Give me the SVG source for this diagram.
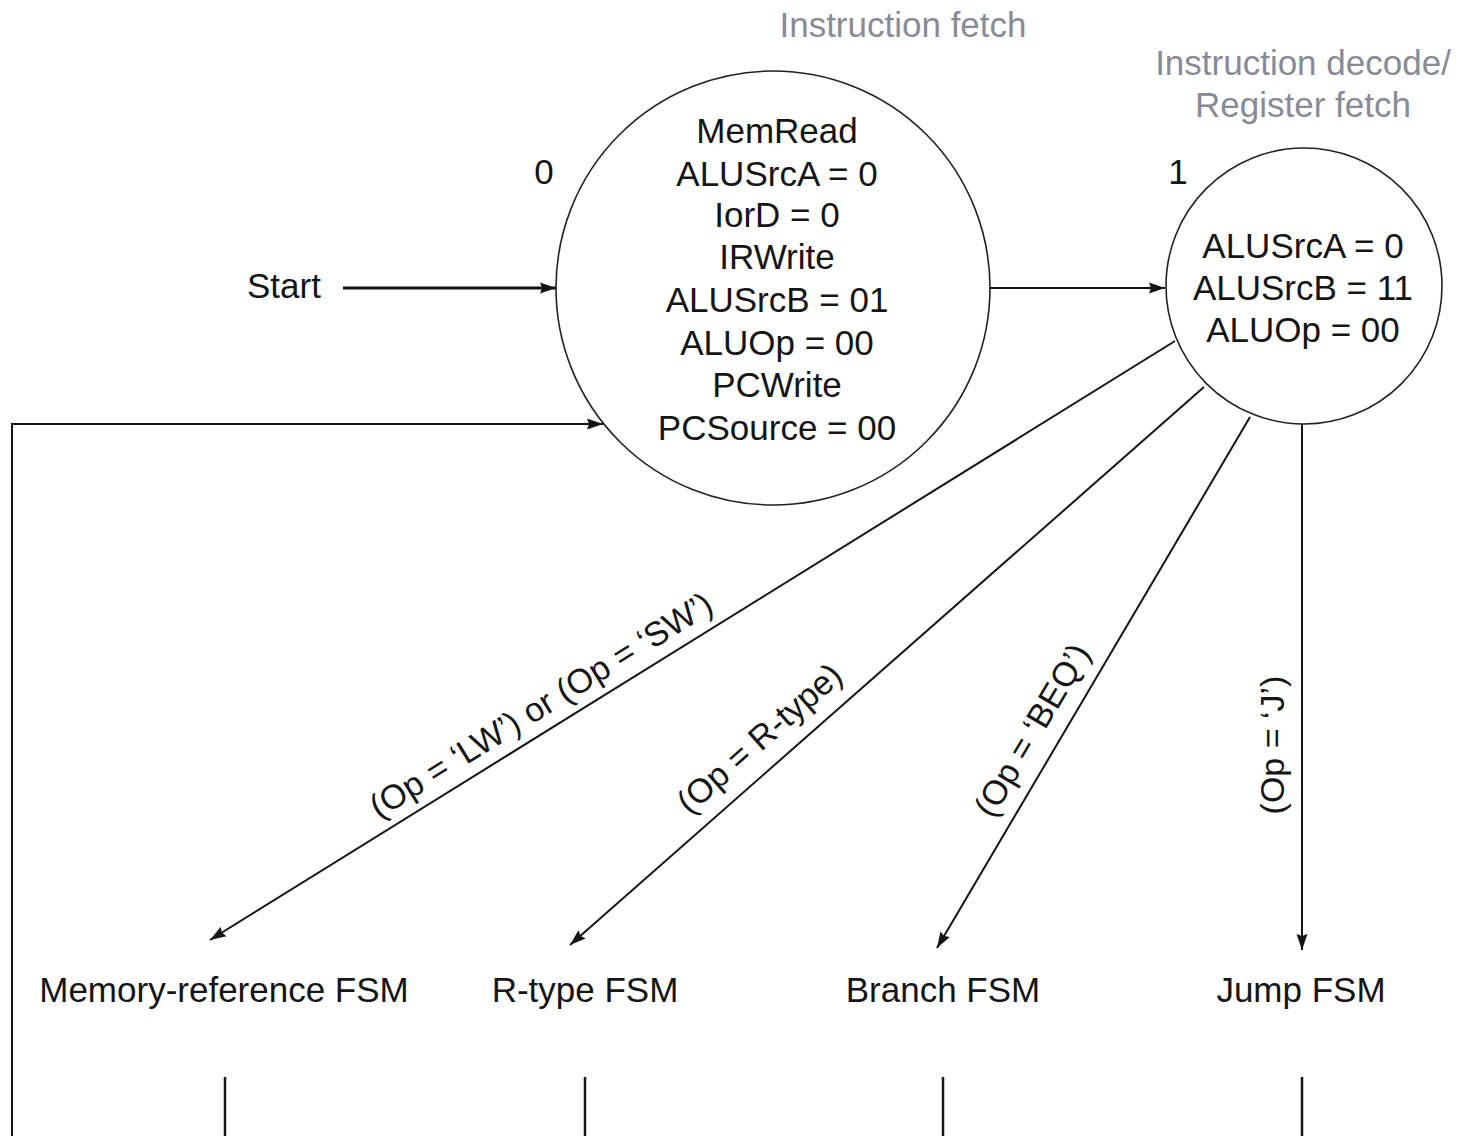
<svg xmlns="http://www.w3.org/2000/svg" width="1471" height="1136" viewBox="0 0 1471 1136">
<style>
  text { font-family: "Liberation Sans", Arial, Helvetica, sans-serif; font-size: 35px; fill: #151515; }
  .title { fill: #8a8a96; }
  .mid { text-anchor: middle; }
  .lbl { font-size: 34px; text-anchor: middle; }
  .state { fill: #ffffff; stroke: #222; stroke-width: 1.6; }
  .wire { fill: none; stroke: #151515; stroke-width: 2; }
  .thick { stroke-width: 3; }
</style>
<defs>
  <marker id="arr" markerUnits="userSpaceOnUse" markerWidth="18" markerHeight="12" refX="16" refY="6" orient="auto">
    <path d="M0,0.5 L16,6 L0,11.5 L2,6 z" fill="#151515"/>
  </marker>
</defs>
<rect width="1471" height="1136" fill="#ffffff"/>

<text class="title mid" x="903" y="37">Instruction fetch</text>
<text class="title mid" x="1303" y="75">Instruction decode/</text>
<text class="title mid" x="1303" y="117">Register fetch</text>

<g id="connectors">
  <line class="wire thick" x1="343" y1="288" x2="556" y2="288" marker-end="url(#arr)"/>
  <line class="wire" x1="990" y1="288" x2="1165" y2="288" marker-end="url(#arr)"/>
  <path class="wire" d="M12,1136 V424 H603" marker-end="url(#arr)"/>
  <line class="wire" x1="1175" y1="341" x2="210" y2="940" marker-end="url(#arr)"/>
  <line class="wire" x1="1204" y1="387" x2="570" y2="945" marker-end="url(#arr)"/>
  <line class="wire" x1="1250" y1="417" x2="937" y2="948" marker-end="url(#arr)"/>
  <line class="wire" x1="1302" y1="424" x2="1302" y2="950" marker-end="url(#arr)"/>
  <line class="wire" style="stroke-width:2.5" x1="225" y1="1077" x2="225" y2="1136"/>
  <line class="wire" style="stroke-width:2.5" x1="585" y1="1077" x2="585" y2="1136"/>
  <line class="wire" style="stroke-width:2.5" x1="943" y1="1077" x2="943" y2="1136"/>
  <line class="wire" style="stroke-width:2.5" x1="1302" y1="1077" x2="1302" y2="1136"/>
  <text class="lbl" transform="translate(547,715) rotate(-31.8)">(Op = ‘LW’) or (Op = ‘SW’)</text>
  <text class="lbl" transform="translate(767,747) rotate(-41.4)">(Op = R-type)</text>
  <text class="lbl" transform="translate(1042,736) rotate(-59.5)">(Op = ‘BEQ’)</text>
  <text class="lbl" transform="translate(1284,745) rotate(-90)">(Op = ‘J’)</text>
</g>

<g id="start">
  <text x="247" y="298">Start</text>
</g>

<g id="state0">
  <circle class="state" cx="773" cy="288" r="217"/>
  <text class="mid" x="544" y="184">0</text>
  <text class="mid" x="777" y="143">MemRead</text>
  <text class="mid" x="777" y="186">ALUSrcA = 0</text>
  <text class="mid" x="777" y="227">IorD = 0</text>
  <text class="mid" x="777" y="269">IRWrite</text>
  <text class="mid" x="777" y="312">ALUSrcB = 01</text>
  <text class="mid" x="777" y="355">ALUOp = 00</text>
  <text class="mid" x="777" y="397">PCWrite</text>
  <text class="mid" x="777" y="440">PCSource = 00</text>
</g>

<g id="state1">
  <circle class="state" cx="1304" cy="286" r="138"/>
  <text class="mid" x="1178" y="184">1</text>
  <text class="mid" x="1303" y="258">ALUSrcA = 0</text>
  <text class="mid" x="1303" y="300">ALUSrcB = 11</text>
  <text class="mid" x="1303" y="342">ALUOp = 00</text>
</g>

<g id="memfsm"><text class="mid" x="224" y="1002">Memory-reference FSM</text></g>
<g id="rtypefsm"><text class="mid" x="585" y="1002">R-type FSM</text></g>
<g id="branchfsm"><text class="mid" x="943" y="1002">Branch FSM</text></g>
<g id="jumpfsm"><text class="mid" x="1301" y="1002">Jump FSM</text></g>
</svg>
